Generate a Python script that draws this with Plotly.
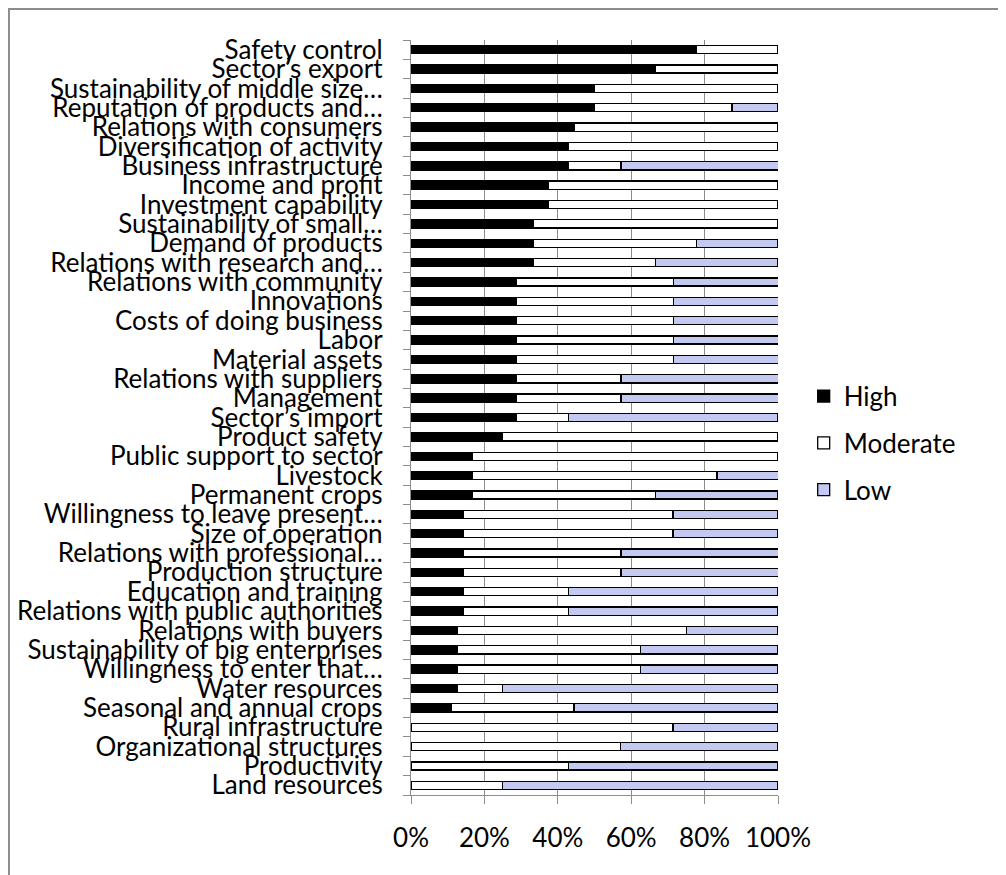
import plotly.graph_objects as go

# categories listed top to bottom, as in the chart
factors = [
    "Safety control",
    "Sector’s export",
    "Sustainability of middle size…",
    "Reputation of products and…",
    "Relations with consumers",
    "Diversification of activity",
    "Business infrastructure",
    "Income and profit",
    "Investment capability",
    "Sustainability of small…",
    "Demand of products",
    "Relations with research and…",
    "Relations with community",
    "Innovations",
    "Costs of doing business",
    "Labor",
    "Material assets",
    "Relations with suppliers",
    "Management",
    "Sector’s import",
    "Product safety",
    "Public support to sector",
    "Livestock",
    "Permanent crops",
    "Willingness to leave present…",
    "Size of operation",
    "Relations with professional…",
    "Production structure",
    "Education and training",
    "Relations with public authorities",
    "Relations with buyers",
    "Sustainability of big enterprises",
    "Willingness to enter that…",
    "Water resources",
    "Seasonal and annual crops",
    "Rural infrastructure",
    "Organizational structures",
    "Productivity",
    "Land resources",
]

high = [
    77.8, 66.7, 50.0, 50.0, 44.4, 42.9, 42.9, 37.5, 37.5, 33.3,
    33.3, 33.3, 28.6, 28.6, 28.6, 28.6, 28.6, 28.6, 28.6, 28.6,
    25.0, 16.7, 16.7, 16.7, 14.3, 14.3, 14.3, 14.3, 14.3, 14.3,
    12.5, 12.5, 12.5, 12.5, 11.1, 0.0, 0.0, 0.0, 0.0,
]
moderate = [
    22.2, 33.3, 50.0, 37.5, 55.6, 57.1, 14.3, 62.5, 62.5, 66.7,
    44.4, 33.3, 42.9, 42.9, 42.9, 42.9, 42.9, 28.6, 28.6, 14.3,
    75.0, 83.3, 66.7, 50.0, 57.1, 57.1, 42.9, 42.9, 28.6, 28.6,
    62.5, 50.0, 50.0, 12.5, 33.3, 71.4, 57.1, 42.9, 25.0,
]
low = [
    0.0, 0.0, 0.0, 12.5, 0.0, 0.0, 42.9, 0.0, 0.0, 0.0,
    22.2, 33.3, 28.6, 28.6, 28.6, 28.6, 28.6, 42.9, 42.9, 57.1,
    0.0, 0.0, 16.7, 33.3, 28.6, 28.6, 42.9, 42.9, 57.1, 57.1,
    25.0, 37.5, 37.5, 75.0, 55.6, 28.6, 42.9, 57.1, 75.0,
]

x_ticks = [0, 20, 40, 60, 80, 100]
x_labels = ["0%", "20%", "40%", "60%", "80%", "100%"]

FONT = "Lato, Open Sans, sans-serif"
GRID = "#8C8C8C"

fig = go.Figure()
for name, values, fill in [
    ("High", high, "#000000"),
    ("Moderate", moderate, "#FFFFFF"),
    ("Low", low, "#C3C9F1"),
]:
    fig.add_trace(
        go.Bar(
            y=factors,
            x=values,
            orientation="h",
            name=name,
            legendgroup=name,
            marker={"color": fill, "line": {"color": "#000000", "width": 1.3}},
        )
    )

# page body adds 8px around the figure, so the figure is 8px smaller
fig.update_layout(
    width=998,
    height=867,
    barmode="stack",
    bargap=0.58,
    paper_bgcolor="#FFFFFF",
    plot_bgcolor="#FFFFFF",
    font={"family": FONT, "color": "#000000", "size": 26},
    margin={"l": 403, "r": 228, "t": 32, "b": 80, "autoexpand": False},
    showlegend=True,
    legend={
        "x": 1.07,
        "y": 0.466,
        "xanchor": "left",
        "yanchor": "middle",
        "traceorder": "grouped",
        "tracegroupgap": 10,
        "font": {"size": 26},
        "bgcolor": "rgba(0,0,0,0)",
    },
    shapes=[
        {
            "type": "rect",
            "xref": "paper",
            "yref": "paper",
            "x0": -1.0955,
            "x1": 1.7,
            "y0": -0.2,
            "y1": 1.041,
            "line": {"color": "#8C8C8C", "width": 2},
            "layer": "below",
        }
    ],
)

fig.update_xaxes(
    range=[0, 100],
    tickmode="array",
    tickvals=x_ticks,
    ticktext=x_labels,
    showgrid=True,
    gridcolor=GRID,
    gridwidth=1.3,
    zeroline=False,
    showline=True,
    linecolor=GRID,
    linewidth=1.3,
    ticks="outside",
    ticklen=8,
    tickcolor=GRID,
    ticklabelstandoff=12,
)
fig.update_yaxes(
    autorange="reversed",
    tickmode="array",
    tickvals=factors,
    ticktext=factors,
    tickson="boundaries",
    showgrid=False,
    showline=True,
    linecolor=GRID,
    linewidth=1.3,
    ticks="outside",
    ticklen=7,
    tickcolor=GRID,
    ticklabelstandoff=22,
)

fig.write_html("out.html")
